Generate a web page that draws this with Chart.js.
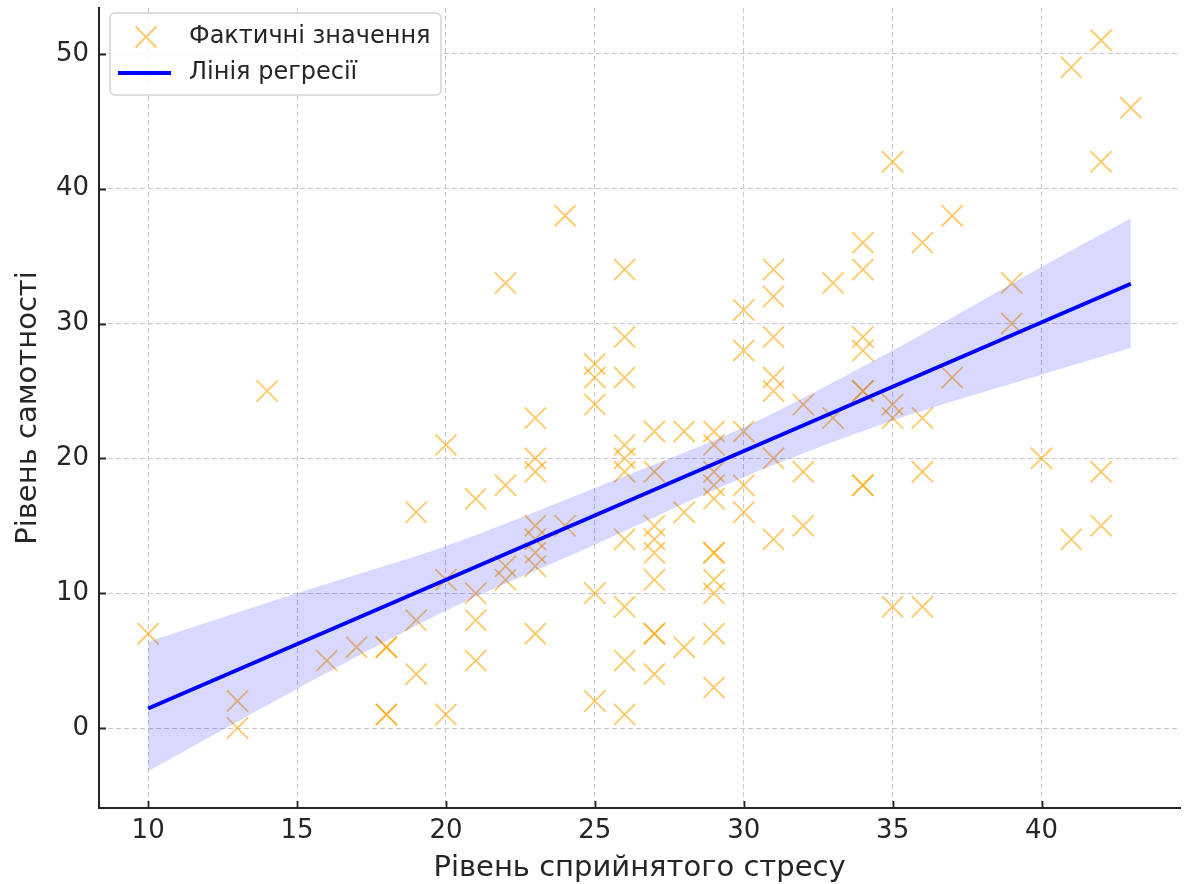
<!DOCTYPE html>
<html>
<head>
<meta charset="utf-8">
<script src="https://cdn.jsdelivr.net/npm/chart.js@4/dist/chart.umd.min.js"></script>
<style>
  body { margin: 0; background: #fff; }
  #chart { display: block; }
</style>
</head>
<body>
<canvas id="chart" width="1184" height="884"></canvas>
<script>
// Observed points (stress level, loneliness level)
const stressLevels = [
  10, 13, 13, 14, 16, 17, 18, 18, 18, 18,
  19, 19, 19, 20, 20, 20, 21, 21, 21, 21,
  22, 22, 22, 22,
  23, 23, 23, 23, 23, 23, 23, 23,
  24, 24,
  25, 25, 25, 25, 25,
  26, 26, 26, 26, 26, 26, 26, 26, 26, 26,
  27, 27, 27, 27, 27, 27, 27, 27, 27,
  28, 28, 28,
  29, 29, 29, 29, 29, 29, 29, 29, 29, 29, 29,
  30, 30, 30, 30, 30,
  31, 31, 31, 31, 31, 31, 31,
  32, 32, 32,
  33, 33,
  34, 34, 34, 34, 34, 34, 34, 34,
  35, 35, 35, 35,
  36, 36, 36, 36,
  37, 37,
  39, 39,
  40,
  41, 41,
  42, 42, 42, 42,
  43
];
const lonelinessLevels = [
  7, 2, 0, 25, 5, 6, 6, 6, 1, 1,
  16, 8, 4, 21, 11, 1, 17, 10, 8, 5,
  33, 18, 12, 11,
  23, 20, 19, 15, 14, 13, 12, 7,
  38, 15,
  27, 26, 24, 10, 2,
  34, 29, 26, 21, 20, 19, 14, 9, 5, 1,
  22, 19, 15, 14, 13, 11, 7, 7, 4,
  22, 16, 6,
  22, 21, 19, 18, 17, 13, 13, 11, 10, 7, 3,
  31, 28, 22, 18, 16,
  34, 32, 29, 26, 25, 20, 14,
  24, 19, 15,
  33, 23,
  36, 34, 29, 28, 25, 25, 18, 18,
  42, 24, 23, 9,
  36, 23, 19, 9,
  38, 26,
  33, 30,
  20,
  49, 14,
  51, 42, 19, 15,
  46
];

// Regression line and its confidence band
const lineX = [10, 43];
const lineY = [1.45, 32.95];
const bandX = [10, 15, 20, 25, 30, 35, 40, 43];
const bandUpper = [6.4, 10.0, 13.5, 17.8, 22.3, 28.0, 34.2, 37.8];
const bandLower = [-3.2, 2.9, 8.7, 13.6, 18.6, 22.8, 26.2, 28.2];

const xTicks = [10, 15, 20, 25, 30, 35, 40];
const yTicks = [0, 10, 20, 30, 40, 50];

const pointsLabel = 'Фактичні значення';
const lineLabel = 'Лінія регресії';
const xTitle = 'Рівень сприйнятого стресу';
const yTitle = 'Рівень самотності';

const textColor = '#262626';
const font = 'DejaVu Sans';

const toXY = (xs, ys) => xs.map((x, i) => ({ x: x, y: ys[i] }));

// Legend box inside the plot, top-left
const legendBox = {
  id: 'legendBox',
  afterDraw(chart) {
    const ctx = chart.ctx;
    const area = chart.chartArea;
    const x = area.left + 11, y = area.top + 5, w = 331, h = 82;
    ctx.save();
    ctx.beginPath();
    ctx.roundRect(x, y, w, h, 5);
    ctx.fillStyle = 'rgba(255,255,255,0.8)';
    ctx.fill();
    ctx.strokeStyle = '#d4d4d4';
    ctx.lineWidth = 1.5;
    ctx.stroke();

    // cross marker
    const cx = x + 36, cy = y + 24, r = 10.5;
    ctx.strokeStyle = 'rgba(255,165,0,0.6)';
    ctx.lineWidth = 1.8;
    ctx.beginPath();
    ctx.moveTo(cx - r, cy - r); ctx.lineTo(cx + r, cy + r);
    ctx.moveTo(cx - r, cy + r); ctx.lineTo(cx + r, cy - r);
    ctx.stroke();

    // line marker
    ctx.strokeStyle = 'blue';
    ctx.lineWidth = 4;
    ctx.beginPath();
    ctx.moveTo(x + 8, y + 60); ctx.lineTo(x + 61, y + 60);
    ctx.stroke();

    ctx.fillStyle = textColor;
    ctx.font = '24px "' + font + '"';
    ctx.textBaseline = 'middle';
    ctx.textAlign = 'left';
    ctx.fillText(pointsLabel, x + 79, y + 24);
    ctx.fillText(lineLabel, x + 79, y + 60);
    ctx.restore();
  }
};

// matplotlib style tick marks pointing into the plot
const innerTicks = {
  id: 'innerTicks',
  afterDraw(chart) {
    const ctx = chart.ctx;
    const area = chart.chartArea;
    const xs = chart.scales.x, ys = chart.scales.y;
    ctx.save();
    ctx.strokeStyle = textColor;
    ctx.lineWidth = 1.8;
    ctx.beginPath();
    xTicks.forEach(v => {
      const px = Math.round(xs.getPixelForValue(v)) + 0.5;
      ctx.moveTo(px, area.bottom);
      ctx.lineTo(px, area.bottom - 7);
    });
    yTicks.forEach(v => {
      const py = Math.round(ys.getPixelForValue(v)) + 0.5;
      ctx.moveTo(area.left, py);
      ctx.lineTo(area.left + 7, py);
    });
    ctx.stroke();
    ctx.restore();
  }
};

new Chart(document.getElementById('chart'), {
  type: 'scatter',
  data: {
    datasets: [
      {
        label: pointsLabel,
        data: toXY(stressLevels, lonelinessLevels),
        pointStyle: 'crossRot',
        radius: 15,
        borderColor: 'rgba(255,165,0,0.6)',
        backgroundColor: 'rgba(255,165,0,0.6)',
        borderWidth: 1.8,
        order: 3
      },
      {
        type: 'line',
        label: 'ci-lower',
        data: toXY(bandX, bandLower),
        borderColor: 'transparent',
        pointRadius: 0,
        fill: false,
        tension: 0.3,
        order: 2
      },
      {
        type: 'line',
        label: 'ci-upper',
        data: toXY(bandX, bandUpper),
        borderColor: 'transparent',
        backgroundColor: 'rgba(0,0,255,0.15)',
        pointRadius: 0,
        fill: '-1',
        tension: 0.3,
        order: 1
      },
      {
        type: 'line',
        label: lineLabel,
        data: toXY(lineX, lineY),
        borderColor: 'blue',
        borderWidth: 4,
        pointRadius: 0,
        fill: false,
        order: 0
      }
    ]
  },
  options: {
    responsive: false,
    animation: false,
    events: [],
    layout: { padding: 0, autoPadding: false },
    plugins: {
      legend: { display: false },
      tooltip: { enabled: false }
    },
    scales: {
      x: {
        type: 'linear',
        min: 8.35,
        max: 44.65,
        afterFit: s => { s.height = 76; s.paddingLeft = 0; s.paddingRight = 4; },
        afterBuildTicks: s => { s.ticks = xTicks.map(v => ({ value: v })); },
        grid: { color: '#c8c8c8', lineWidth: 1, drawTicks: false },
        border: { display: true, color: textColor, width: 2, dash: [5, 3] },
        ticks: { color: textColor, padding: 8, font: { family: font, size: 26 } },
        title: {
          display: true,
          text: xTitle,
          color: textColor,
          font: { family: font, size: 29, lineHeight: 1 },
          padding: { top: 0, bottom: 1.5 }
        }
      },
      y: {
        type: 'linear',
        min: -5.93,
        max: 53.4,
        afterFit: s => { s.width = 99; s.paddingTop = 8; s.paddingBottom = 0; },
        afterBuildTicks: s => { s.ticks = yTicks.map(v => ({ value: v })); },
        grid: { color: '#c8c8c8', lineWidth: 1, drawTicks: false },
        border: { display: true, color: textColor, width: 2, dash: [5, 3] },
        ticks: { color: textColor, padding: 10, font: { family: font, size: 26 } },
        title: {
          display: true,
          text: yTitle,
          color: textColor,
          font: { family: font, size: 29, lineHeight: 1 },
          padding: { top: 13.5, bottom: 0 }
        }
      }
    }
  },
  plugins: [legendBox, innerTicks]
});
</script>
</body>
</html>
